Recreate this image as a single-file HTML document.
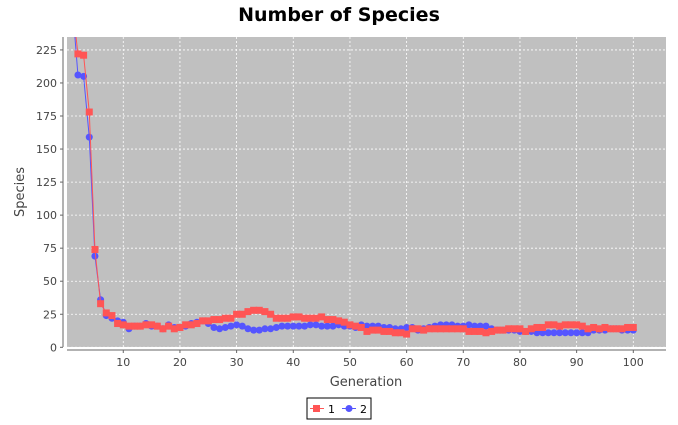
<!DOCTYPE html>
<html><head><meta charset="utf-8"><style>
body{margin:0;background:#fff;font-family:"DejaVu Sans","Liberation Sans",sans-serif}
</style></head><body>
<svg id="c" width="678" height="421" xmlns="http://www.w3.org/2000/svg" font-family="DejaVu Sans, Liberation Sans, sans-serif">
<defs><clipPath id="clip"><rect x="67" y="37" width="599" height="310"/></clipPath></defs>
<text x="339" y="21" text-anchor="middle" font-size="19" font-weight="bold" fill="#000">Number of Species</text>
<rect x="67" y="37" width="599" height="310" fill="#c0c0c0"/>
<g id="grid"></g>
<g id="series" clip-path="url(#clip)"></g>
<line x1="67" y1="350" x2="666" y2="350" stroke="#666"/>
<line x1="63" y1="37" x2="63" y2="347" stroke="#666"/>
<g id="ticks" font-size="11" fill="#444"></g>
<text x="366" y="386" text-anchor="middle" font-size="13" fill="#444">Generation</text>
<text transform="translate(24,192) rotate(-90)" text-anchor="middle" font-size="13" fill="#444">Species</text>
<g>
<rect x="307" y="398" width="64" height="21" fill="#fff" stroke="#000"/>
<g>
<line x1="310" y1="408.5" x2="324" y2="408.5" stroke="#ff5555"/><rect x="313" y="405" width="7" height="7" fill="#ff5555"/>
<text x="328" y="413" font-size="11" fill="#000">1</text></g>
<g>
<line x1="342" y1="408.5" x2="356" y2="408.5" stroke="#5555ff"/><circle cx="349" cy="408.5" r="3.5" fill="#5555ff"/>
<text x="360" y="413" font-size="11" fill="#000">2</text></g>
</g>
</svg>
<script>
const generations=[];for(let g=1;g<=100;g++)generations.push(g);
const series1=[260,222,221,178,74,33,26,24,18,17,16,16,16,17,17,16,14,16,14,15,17,17,18,20,20,21,21,22,22,25,25,27,28,28,27,25,22,22,22,23,23,22,22,22,23,21,21,20,19,17,16,15,12,13,13,12,12,11,11,10,14,14,13,14,14,14,14,14,14,14,12,12,12,11,12,13,13,14,14,14,12,14,15,15,17,17,16,17,17,17,16,14,15,14,15,14,14,14,15,15];
const series2=[260,206,205,159,69,36,24,22,20,19,14,16,16,18,16,16,14,17,15,15,16,18,19,20,18,15,14,15,16,17,16,14,13,13,14,14,15,16,16,16,16,16,17,17,16,16,16,17,16,16,15,17,16,16,16,15,15,14,14,15,15,13,14,15,16,17,17,17,16,16,17,16,16,16,14,13,13,13,13,12,12,12,11,11,11,11,11,11,11,11,11,11,13,13,13,14,14,13,13,13];
const yTicks=[0,25,50,75,100,125,150,175,200,225];
const xTicks=[10,20,30,40,50,60,70,80,90,100];
const NS="http://www.w3.org/2000/svg";
const X=g=>66.6+g*5.667, Y=v=>347.3-v*1.3217;
function mk(t,a,p){const e=document.createElementNS(NS,t);for(const k in a)e.setAttribute(k,a[k]);p.appendChild(e);return e;}
const grid=document.getElementById('grid'),ticks=document.getElementById('ticks'),ser=document.getElementById('series');
yTicks.forEach(v=>{
 const l=mk('line',{x1:67,x2:666,y1:Y(v),y2:Y(v),stroke:'#fff','stroke-dasharray':'2,2','stroke-width':0.8},grid);
 
 
 mk('line',{x1:60,x2:63,y1:Y(v),y2:Y(v),stroke:'#666'},ticks);
 const t=mk('text',{x:57,y:Y(v)+4,'text-anchor':'end'},ticks);t.textContent=v;
 
 
});
xTicks.forEach(v=>{
 const l=mk('line',{x1:X(v),x2:X(v),y1:37,y2:347,stroke:'#fff','stroke-dasharray':'2,2','stroke-width':0.8},grid);
 
 
 mk('line',{x1:X(v),x2:X(v),y1:350,y2:353,stroke:'#666'},ticks);
 const t=mk('text',{x:X(v),y:366,'text-anchor':'middle'},ticks);t.textContent=v;
 
 
});
function draw(vals,col,shape,name){
 const g=mk('g',{},ser);
 
 
 const pts=vals.map((v,i)=>X(generations[i])+','+Y(v)).join(' ');
 mk('polyline',{points:pts,fill:'none',stroke:col,'stroke-width':1},g);
 vals.forEach((v,i)=>{
  const x=X(generations[i]),y=Y(v);let m;
  if(shape==='sq')m=mk('rect',{x:x-3.5,y:y-3.5,width:7,height:7,fill:col},g);
  else m=mk('circle',{cx:x,cy:y,r:3.5,fill:col},g);
  
  
 });
}
draw(series2,'#5555ff','ci','series-2');
draw(series1,'#ff5555','sq','series-1');
</script>
</body></html>
